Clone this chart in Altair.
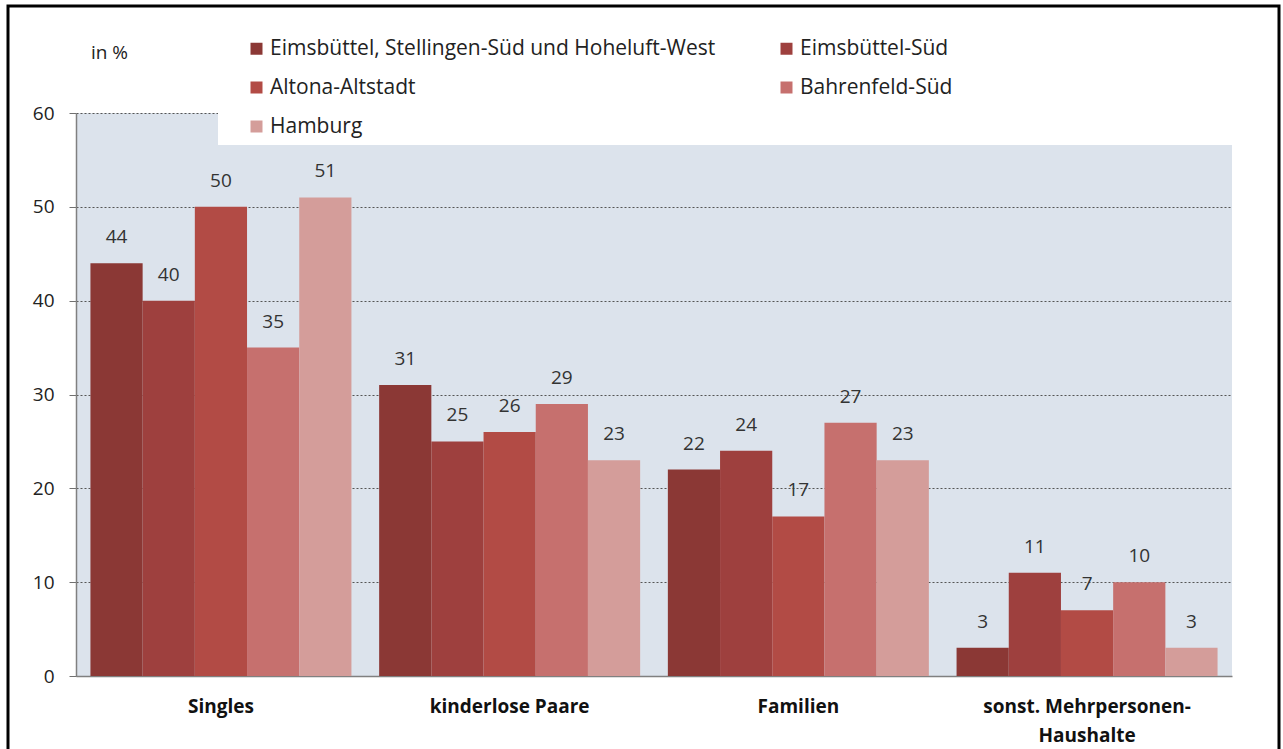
import altair as alt
import pandas as pd

# Haushaltstypen und Stadtteile
categories = ["Singles", "kinderlose Paare", "Familien", "sonst. Mehrpersonen-Haushalte"]
series = [
    "Eimsbüttel, Stellingen-Süd und Hoheluft-West",
    "Eimsbüttel-Süd",
    "Altona-Altstadt",
    "Bahrenfeld-Süd",
    "Hamburg",
]
values = {
    "Eimsbüttel, Stellingen-Süd und Hoheluft-West": [44, 31, 22, 3],
    "Eimsbüttel-Süd": [40, 25, 24, 11],
    "Altona-Altstadt": [50, 26, 17, 7],
    "Bahrenfeld-Süd": [35, 29, 27, 10],
    "Hamburg": [51, 23, 23, 3],
}
colors = ["#8b3835", "#9e403e", "#b24b45", "#c6706e", "#d49d9a"]
y_ticks = [0, 10, 20, 30, 40, 50, 60]

rows = []
for s in series:
    for c, v in zip(categories, values[s]):
        rows.append({"Typ": c, "Gebiet": s, "Anteil": v})
df = pd.DataFrame(rows)

# the legend fills its two columns top-down, so list the entries column by column
legend_order = [series[0], series[2], series[4], series[1], series[3]]
legend_colors = [colors[series.index(s)] for s in legend_order]

FONT = "Open Sans"
W, H = 1156, 563
PAD_L, PAD_T = 76, 113

x_enc = alt.X(
    "Typ:N",
    sort=categories,
    scale=alt.Scale(paddingInner=0.096, paddingOuter=0.05),
    axis=alt.Axis(
        title=None,
        labelAngle=0,
        labelFont=FONT,
        labelFontWeight="bold",
        labelFontSize=19,
        labelColor="#111",
        labelPadding=21,
        labelLineHeight=29,
        labelLimit=400,
        labelExpr="datum.value == 'sonst. Mehrpersonen-Haushalte' ? ['sonst. Mehrpersonen-', 'Haushalte'] : datum.value",
        ticks=False,
        domainColor="#808080",
        domainWidth=1.5,
        grid=False,
    ),
)
xoff_enc = alt.XOffset("Gebiet:N", sort=series, scale=alt.Scale(paddingInner=0, paddingOuter=0))
y_enc = alt.Y(
    "Anteil:Q",
    scale=alt.Scale(domain=[0, 60], nice=False),
    axis=alt.Axis(
        values=y_ticks,
        title="in %",
        titleAngle=0,
        titleX=33,
        titleY=-61,
        titleAlign="center",
        titleBaseline="middle",
        titleFont=FONT,
        titleFontWeight="normal",
        titleFontSize=19,
        titleColor="#222",
        labelFont=FONT,
        labelFontSize=19,
        labelColor="#222",
        labelPadding=15,
        tickSize=7,
        tickColor="#707070",
        domainColor="#808080",
        domainWidth=1.5,
        grid=True,
        gridColor="#555",
        gridDash=[2, 2],
        gridWidth=1,
    ),
)

bars = alt.Chart(df).mark_bar().encode(
    x=x_enc,
    xOffset=xoff_enc,
    y=y_enc,
    color=alt.Color(
        "Gebiet:N",
        scale=alt.Scale(domain=legend_order, range=legend_colors),
        legend=alt.Legend(
            title=None,
            orient="none",
            legendX=170,
            legendY=-75,
            columns=2,
            columnPadding=60,
            rowPadding=17,
            symbolType="square",
            symbolSize=144,
            symbolStrokeWidth=0,
            symbolOpacity=1,
            labelFont=FONT,
            labelFontSize=21,
            labelColor="#222",
            labelOffset=3,
            labelLimit=600,
        ),
    ),
)

labels = alt.Chart(df).mark_text(
    font=FONT, fontSize=19, color="#333", baseline="middle", dy=-26
).encode(
    x=alt.X("Typ:N", sort=categories),
    xOffset=alt.XOffset("Gebiet:N", sort=series),
    y="Anteil:Q",
    text="Anteil:Q",
)

# white box behind the legend, covering the top of the plot area
legend_box = alt.Chart(alt.Data(values=[{}])).mark_rect(color="white").encode(
    x=alt.value(142), x2=alt.value(W + 2), y=alt.value(-3), y2=alt.value(32)
)

# black frame around the whole figure
frame = alt.Chart(alt.Data(values=[{}])).mark_rect(
    filled=False, stroke="black", strokeWidth=3
).encode(
    x=alt.value(8 - PAD_L), x2=alt.value(1279 - PAD_L), y=alt.value(6 - PAD_T), y2=alt.value(760 - PAD_T)
)

chart = (
    alt.layer(bars, labels, legend_box, frame)
    .properties(
        width=W,
        height=H,
        autosize=alt.AutoSizeParams(type="none"),
        padding={"left": PAD_L, "top": PAD_T, "right": 1283 - PAD_L - W, "bottom": 749 - PAD_T - H},
        background="white",
    )
    .configure(font=FONT)
    .configure_view(fill="#dce3ec", stroke="transparent", strokeWidth=0)
)

chart.save("out.html", embed_options={"renderer": "svg", "actions": False})
